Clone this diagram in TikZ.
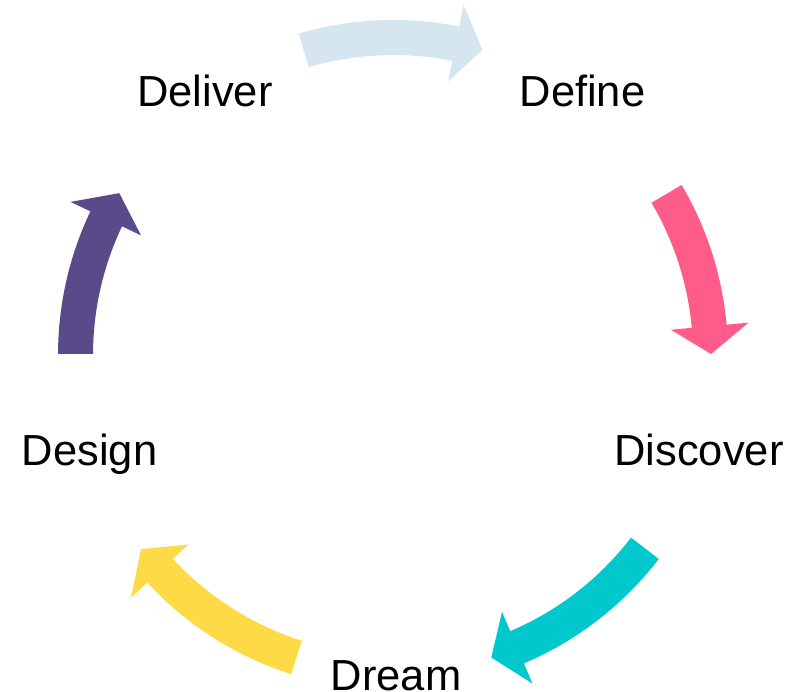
\documentclass[tikz,border=0pt]{standalone}
\usepackage{fontspec}
\setmainfont{Liberation Sans}
\definecolor{cBlue}{RGB}{214,230,240}
\definecolor{cPink}{RGB}{255,92,138}
\definecolor{cTeal}{RGB}{0,200,204}
\definecolor{cYellow}{RGB}{255,218,71}
\definecolor{cPurple}{RGB}{91,74,138}
\newcommand{\cycarrow}[4]{%
  \fill[#1] ([shift={(#2:335)}]C) arc[start angle=#2, end angle=#3, radius=335]
    -- ([shift={(#3:357)}]C) -- ([shift={(#4:318)}]C) -- ([shift={(#3:279)}]C)
    -- ([shift={(#3:300)}]C) arc[start angle=#3, end angle=#2, radius=300] -- cycle;}
\begin{document}
\begin{tikzpicture}[x=1pt,y=1pt,
  lbl/.style={inner sep=0pt, anchor=base, font=\fontsize{43.5}{50}\selectfont, text=black}]
\useasboundingbox (0,0) rectangle (800,-691);
\coordinate (C) at (393,-355);
\cycarrow{cBlue}{106.35}{78.6}{73.66}
\cycarrow{cPink}{30.5}{5.2}{0.18}
\cycarrow{cTeal}{-37.5}{-67}{-72}
\cycarrow{cYellow}{252.3}{222.8}{217.6}
\cycarrow{cPurple}{179.8}{154.6}{149.4}
\node[lbl] (deliver) at (205,-106.7) {Deliver};
\node[lbl] (define) at (582.5,-106.7) {Define};
\node[lbl] (discover) at (699,-465) {Discover};
\node[lbl] (design) at (89.7,-465) {Design};
\node[lbl] (dream) at (396,-690.5) {Dream};
\end{tikzpicture}
\end{document}
